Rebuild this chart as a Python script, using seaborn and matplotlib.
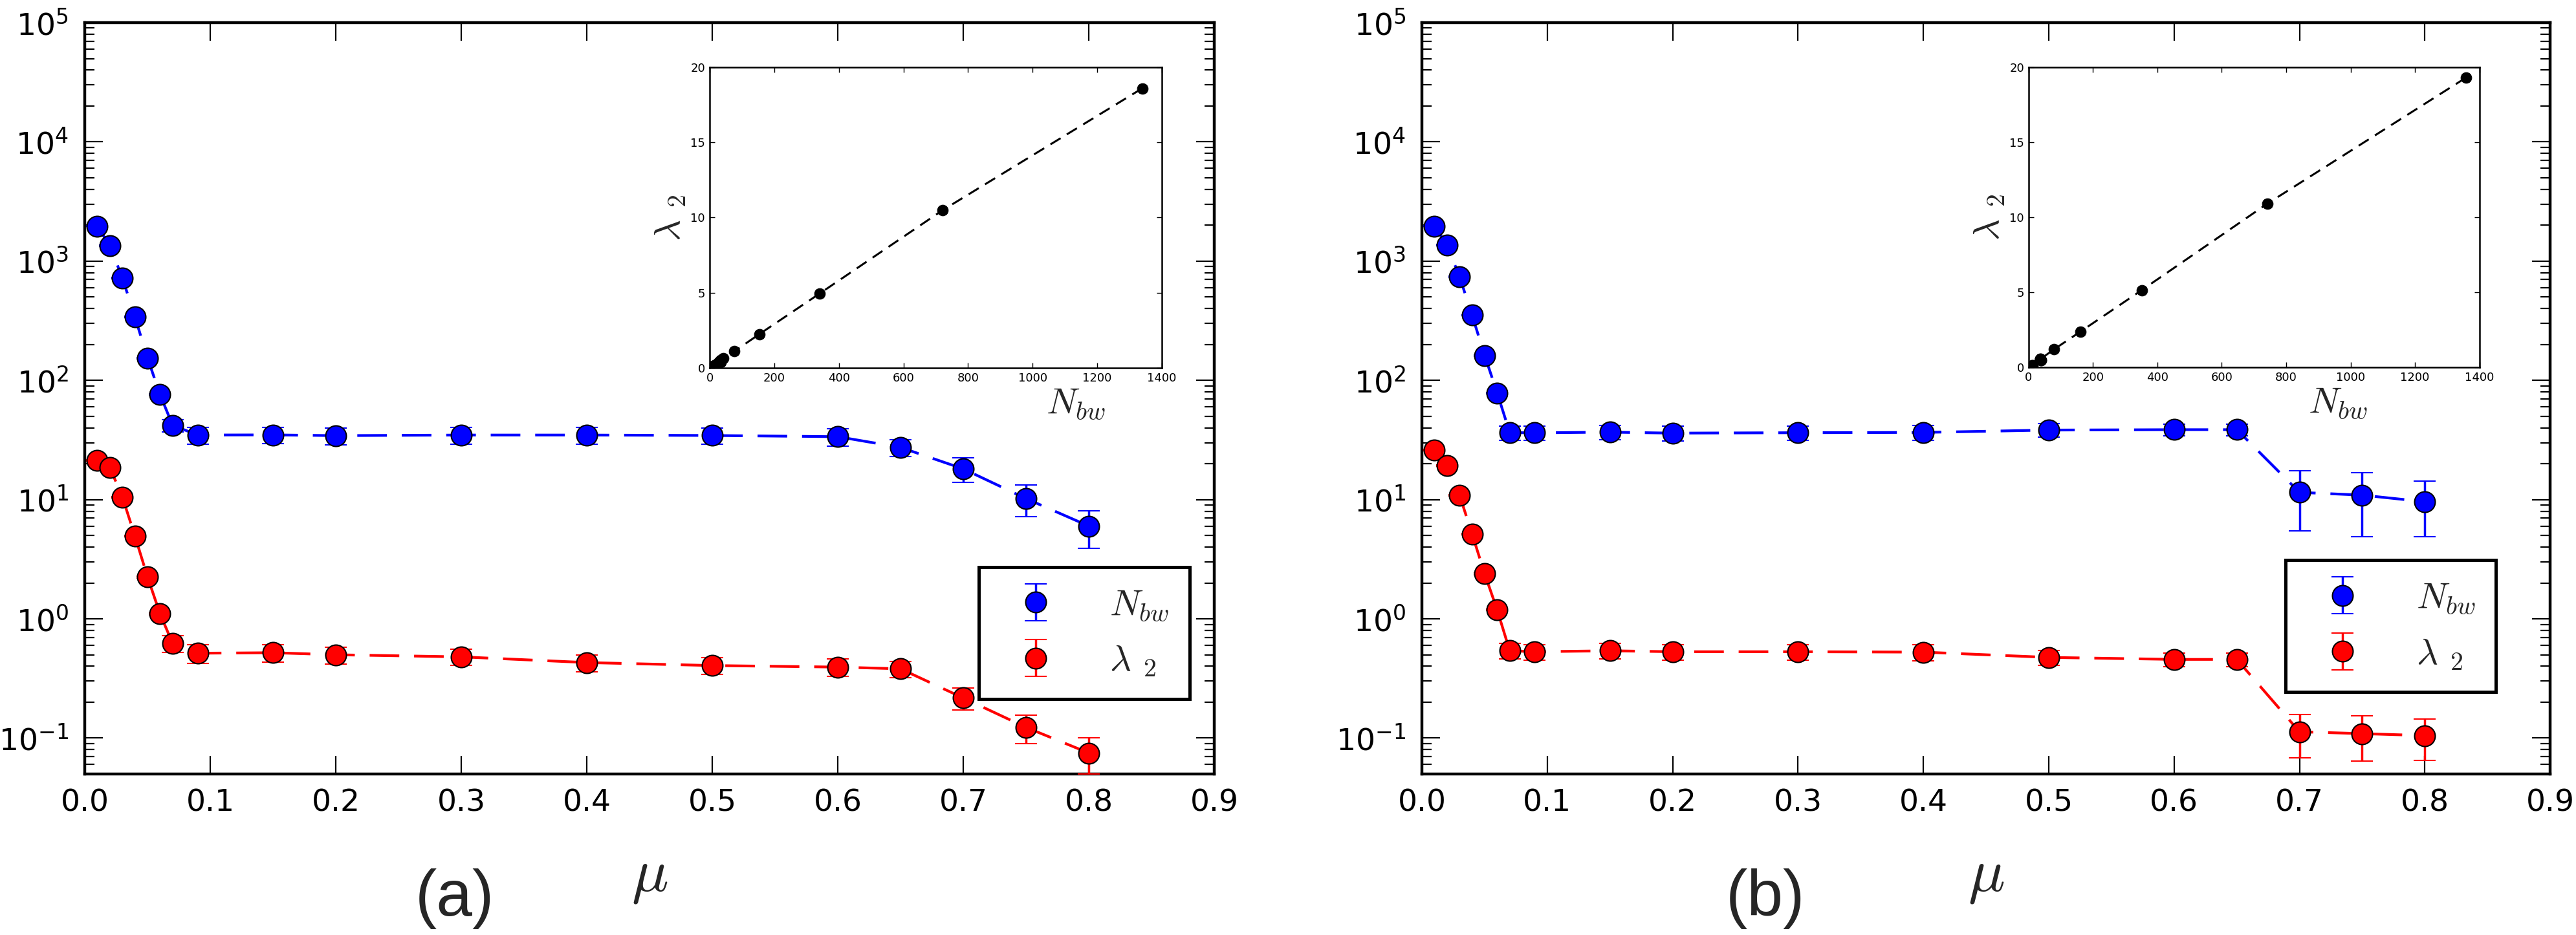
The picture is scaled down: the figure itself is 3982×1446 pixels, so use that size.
import numpy as np
import matplotlib
matplotlib.use("Agg")
import matplotlib.pyplot as plt
import seaborn as sns
from matplotlib.ticker import LogLocator, FormatStrFormatter, MultipleLocator, NullFormatter

# estilo parecido com o matplotlib "classico"
sns.set_theme(style="ticks", color_codes=False)
plt.rcParams['font.family'] = ['DejaVu Sans']
plt.rcParams['mathtext.fontset'] = 'cm'

AZUL = '#0000ff'
VERMELHO = '#ff0000'

# valores de mu (comuns aos dois paineis)
mu = [0.01, 0.02, 0.03, 0.04, 0.05, 0.06, 0.07, 0.09, 0.15, 0.2,
      0.3, 0.4, 0.5, 0.6, 0.65, 0.7, 0.75, 0.8]

# painel (a)
nbw_a = [1970, 1340, 722, 340, 154, 76, 42, 34.8, 34.9, 34.4,
         34.8, 34.8, 34.5, 33.7, 27.4, 18.1, 10.2, 6.0]
nbw_a_err = [20, 15, 8, 4, 2, 1, 5, 5.6, 5.5, 5.5,
             5.5, 5.5, 5.3, 5.5, 4.5, 4.2, 3.0, 2.1]
lam_a = [21.3, 18.6, 10.5, 4.94, 2.25, 1.10, 0.624, 0.515, 0.52, 0.50,
         0.48, 0.43, 0.406, 0.394, 0.381, 0.217, 0.123, 0.075]
lam_a_err = [0.3, 0.3, 0.15, 0.08, 0.04, 0.02, 0.1, 0.09, 0.085, 0.08,
             0.075, 0.07, 0.065, 0.065, 0.06, 0.045, 0.033, 0.025]

# painel (b)
nbw_b = [1970, 1358, 741, 352, 162, 78.6, 36.5, 36.3, 36.8, 36.1,
         36.4, 36.6, 38.3, 38.6, 38.6, 11.5, 10.9, 9.6]
nbw_b_err = [20, 15, 8, 4, 2, 1, 5, 5, 5, 5,
             5, 5, 5, 4.5, 4.5, 6, 6, 4.7]
lam_b = [26.1, 19.3, 10.9, 5.15, 2.39, 1.19, 0.54, 0.53, 0.54, 0.53,
         0.53, 0.526, 0.475, 0.457, 0.457, 0.113, 0.109, 0.105]
lam_b_err = [0.3, 0.3, 0.15, 0.08, 0.04, 0.02, 0.08, 0.08, 0.08, 0.08,
             0.08, 0.08, 0.07, 0.06, 0.06, 0.045, 0.045, 0.04]

x_ticks = [0.0, 0.1, 0.2, 0.3, 0.4, 0.5, 0.6, 0.7, 0.8, 0.9]
y_ticks = [1e-1, 1e0, 1e1, 1e2, 1e3, 1e4, 1e5]


def painel(ax, ins, nbw, nbw_err, lam, lam_err, leg_anchor, nlabel_x, letra, letra_x):
    # linhas tracejadas
    sns.lineplot(x=mu, y=nbw, ax=ax, color=AZUL, lw=3, linestyle=(0, (11, 5.5)))
    sns.lineplot(x=mu, y=lam, ax=ax, color=VERMELHO, lw=3, linestyle=(0, (11, 5.5)))
    # pontos com barras de erro
    ax.errorbar(mu, nbw, yerr=nbw_err, fmt='o', color=AZUL, ms=23, mec='k', mew=1.5,
                elinewidth=2.5, capsize=12, capthick=2.5, label=r'$N_{bw}$', zorder=3)
    ax.errorbar(mu, lam, yerr=lam_err, fmt='o', color=VERMELHO, ms=23, mec='k', mew=1.5,
                elinewidth=2.5, capsize=12, capthick=2.5,
                label=r'$\lambda\ _{\mathsf{2}}$', zorder=3)

    ax.set_yscale('log')
    ax.set_ylim(0.05, 1e5)
    ax.set_xlim(0, 0.9)
    ax.set_xticks(x_ticks)
    ax.set_yticks(y_ticks)
    ax.xaxis.set_major_formatter(FormatStrFormatter('%.1f'))
    ax.yaxis.set_minor_locator(LogLocator(base=10, subs=np.arange(2, 10), numticks=100))
    ax.yaxis.set_minor_formatter(NullFormatter())
    ax.tick_params(which='both', direction='in', top=True, right=True, colors='k')
    ax.tick_params(which='major', length=20, width=1.6, labelsize=34, pad=16)
    ax.tick_params(which='minor', length=11, width=1.6)
    ax.tick_params(axis='y', pad=18)
    for s in ax.spines.values():
        s.set_linewidth(3.2)
        s.set_color('k')

    ax.set_ylabel('')
    ax.set_xlabel(r'$\mu$', fontsize=68)
    ax.xaxis.set_label_coords(0.5, -0.135)
    ax.xaxis.label.set_va('center')

    leg = ax.legend(loc='lower right', bbox_to_anchor=leg_anchor, borderaxespad=0,
                    fontsize=41, fancybox=False, framealpha=1, edgecolor='k',
                    handletextpad=1.0, borderpad=0.55, labelspacing=0.55, numpoints=1)
    leg.get_frame().set_linewidth(3.6)

    # inset: lambda_2 vs N_bw (sem mu = 0.01)
    sns.lineplot(x=nbw[1:], y=lam[1:], ax=ins, color='k', lw=2.2, linestyle=(0, (6, 3.7)),
                 marker='o', markersize=12, markeredgecolor='k', sort=False)
    ins.set_xlim(0, 1400)
    ins.set_ylim(0, 20)
    ins.xaxis.set_major_locator(MultipleLocator(200))
    ins.yaxis.set_major_locator(MultipleLocator(5))
    ins.tick_params(direction='in', top=True, right=True, length=6, width=1,
                    labelsize=13, pad=5, colors='k')
    for s in ins.spines.values():
        s.set_linewidth(1.8)
        s.set_color('k')
    ins.set_xlabel(r'$N_{bw}$', fontsize=41)
    ins.xaxis.set_label_coords(nlabel_x, -0.118)
    ins.xaxis.label.set_va('center')
    ins.set_ylabel(r'$\lambda\ _{\mathsf{2}}$', fontsize=41)
    ins.yaxis.set_label_coords(-0.087, 0.5)
    ins.yaxis.label.set_va('center')
    ins.yaxis.label.set_ha('center')

    fig.text(letra_x, 1 - 1390 / 1446, letra, fontsize=72, family=['Liberation Sans', 'DejaVu Sans'],
             ha='center', va='center')


fig = plt.figure(figsize=(39.82, 14.46), dpi=100)
ax_a = fig.add_axes([0.0329, 0.1722, 0.4385, 0.8036])
ax_b = fig.add_axes([0.5520, 0.1722, 0.4380, 0.8036])
ins_a = fig.add_axes([0.2755, 0.6065, 0.1755, 0.3216])
ins_b = fig.add_axes([0.7875, 0.6072, 0.1750, 0.3209])

painel(ax_a, ins_a, nbw_a, nbw_a_err, lam_a, lam_a_err, (0.978, 0.10), 0.81, '(a)', 703 / 3982)
painel(ax_b, ins_b, nbw_b, nbw_b_err, lam_b, lam_b_err, (0.952, 0.109), 0.686, '(b)', 2729 / 3982)

fig.savefig('out.png', dpi=100, facecolor='white')
plt.close(fig)
